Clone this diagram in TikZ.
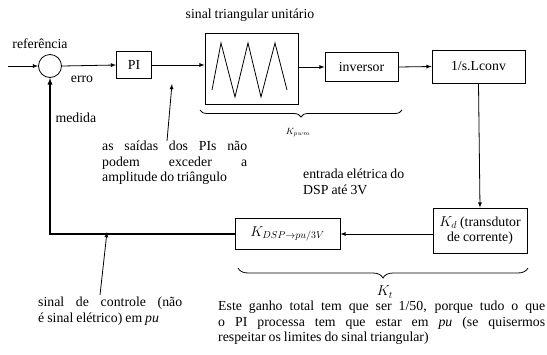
\documentclass[tikz,border=0pt]{standalone}
\usepackage{fontspec}
\setmainfont{Liberation Serif}
\usetikzlibrary{decorations.pathreplacing}

\newcommand{\fonte}{\fontsize{13.8}{15.5}\selectfont\spaceskip=3pt plus 20pt minus 0.5pt\relax}

\tikzset{
  bloco/.style={draw,line width=0.8pt,inner sep=2pt,align=center},
  seta/.style={->,>=latex,line width=0.8pt},
  chave/.style={decorate,decoration={brace,mirror,amplitude=#1},line width=0.8pt},
  nota/.style={inner sep=0pt,align=justify,anchor=north west}
}

\begin{document}
\hyphenpenalty=10000
\begin{tikzpicture}[x=1pt,y=-1pt,font=\fonte]

   \useasboundingbox (0,0) rectangle (547,354);

   % blocos da malha
   \node[draw,circle,line width=0.8pt,minimum size=23pt,inner sep=0pt] (soma) at (50,66) {};
   \node[bloco,minimum width=35pt,minimum height=27pt] (pi) at (134,65) {PI};
   \node[draw,line width=0.8pt,minimum width=93pt,minimum height=71pt] (tri) at (251.5,68.5) {};
   \node[bloco,minimum width=73pt,minimum height=29pt] (inv) at (361.5,67) {inversor};
   \node[bloco,minimum width=93pt,minimum height=33pt] (lconv) at (478.5,66.5) {1/s.Lconv};
   \node[bloco,minimum width=94pt,minimum height=45pt,inner sep=1pt] (kd) at (480,230.5) {$K_d$ (transdutor\\de corrente)};
   \node[bloco,minimum width=105pt,minimum height=31pt] (kdsp) at (287.5,234) {$K_{DSP\rightarrow pu/3V}$};

   % onda triangular
   \draw[line width=0.8pt] (212,90) -- (221,43) -- (235,97) -- (248,43) -- (261,97) -- (275,43) -- (287,90);

   % ligacoes
   \coordinate (entrada) at (8,66);
   \draw[seta] (entrada) -- (soma.west);
   \draw[seta] (soma.east) -- (pi.west);
   \draw[seta] (pi.east) -- (tri.west |- pi.east);
   \draw[seta] (tri.east |- inv.west) -- (inv.west);
   \draw[seta] (inv.east) -- (lconv.west);
   \draw[seta] (lconv.south) -- (kd.north);
   \draw[seta] (kd.west |- kdsp.east) -- (kdsp.east);
   \draw[seta,line width=1.3pt] (kdsp.west) -| (soma.south);

   % rotulos
   \node (ref) at (40,44) {referência};
   \node (erro) at (82,79) {erro};
   \node[anchor=west] (medida) at (52,118) {medida};
   \node (titulo) at (250,15) {sinal triangular unitário};

   % chaves
   \draw[chave=7pt] (200,110) -- (402,110);
   \node (kpwm) at (298,133) {\small$K_{pwm}$};
   \draw[chave=10pt] (238,268) -- (528,268);
   \node (kt) at (385,292) {$K_t$};

   % notas
   \node[nota,text width=145pt] (nota1) at (102,141) {as saídas dos PIs não\linebreak podem exceder a\linebreak amplitude do triângulo};
   \coordinate (n1) at (167,141);
   \coordinate (n1fim) at (172,84);
   \draw[seta] (n1) -- (n1fim);

   \node[anchor=north west,inner sep=0pt,align=left] (dsp) at (303,169) {entrada elétrica do\\DSP até 3V};

   \node[nota,text width=144pt] (nota2) at (38,297) {sinal de controle (não\linebreak é sinal elétrico) em \emph{pu}};
   \coordinate (n2) at (100,295);
   \coordinate (n2fim) at (107,232);
   \draw[seta] (n2) -- (n2fim);

   \node[nota,text width=327pt] (ganho) at (218,301) {Este ganho total tem que ser 1/50, porque tudo o que\linebreak o PI processa tem que estar em \emph{pu} (se quisermos\linebreak respeitar os limites do sinal triangular)};

\end{tikzpicture}
\end{document}
